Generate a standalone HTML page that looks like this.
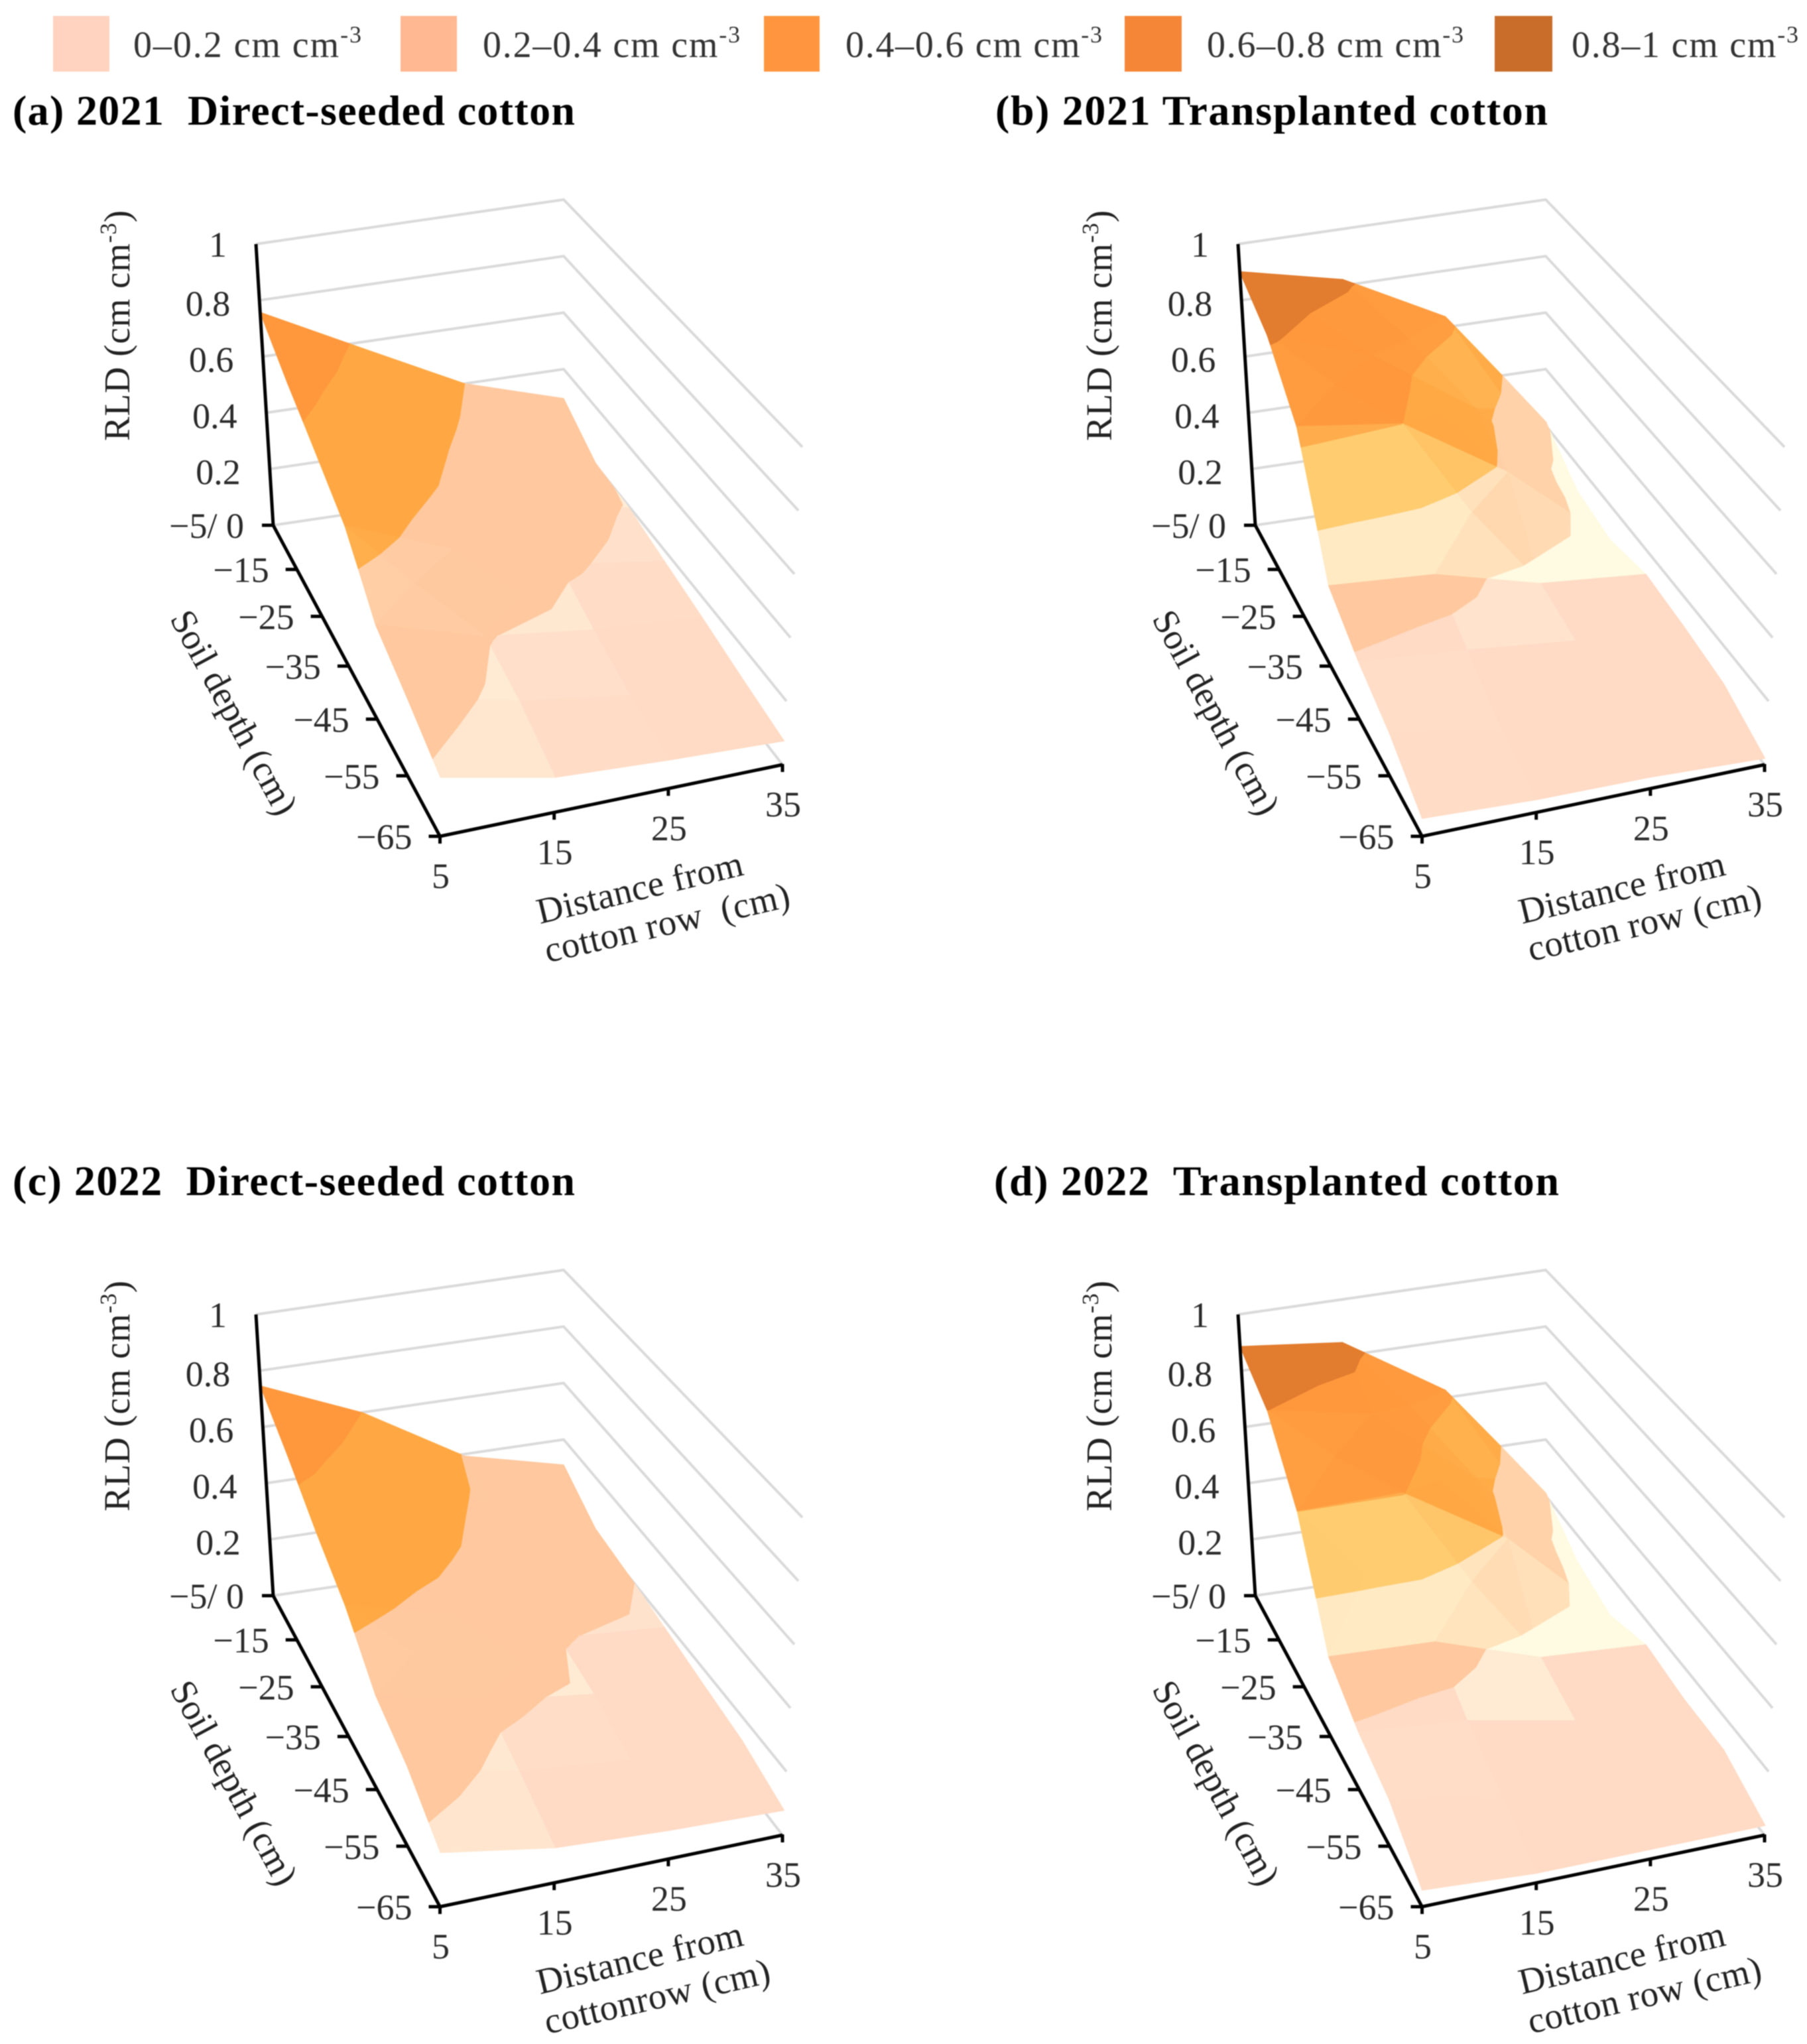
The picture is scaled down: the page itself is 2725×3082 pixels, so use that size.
<!DOCTYPE html>
<html lang="en">
<head>
<meta charset="utf-8">
<title>Root length density surfaces</title>
<style>
html,body{margin:0;padding:0;background:#fff;}
svg{display:block;font-family:"Liberation Serif",serif;filter:blur(0.7px);}
.title{font-size:64px;font-weight:bold;fill:#000;}
.legend-text{font-size:56px;fill:#333;}
.axis-title{font-size:55px;fill:#222;}
.tick{font-size:54px;fill:#2a2a2a;}
</style>
</head>
<body>
<svg id="chart" width="2725" height="3082" viewBox="0 0 2725 3082" xmlns="http://www.w3.org/2000/svg">
<rect x="0" y="0" width="2725" height="3082" fill="#fff"/>
<g>
  <rect x="80" y="24" width="85" height="84" fill="#FFD3BF"/>
  <text class="legend-text" x="201" y="86" textLength="344" lengthAdjust="spacing">0–0.2 cm cm<tspan dy="-22" font-size="36">-3</tspan></text>
  <rect x="604" y="24" width="85" height="84" fill="#FFB891"/>
  <text class="legend-text" x="728" y="86" textLength="388" lengthAdjust="spacing">0.2–0.4 cm cm<tspan dy="-22" font-size="36">-3</tspan></text>
  <rect x="1152" y="24" width="84" height="84" fill="#FF963F"/>
  <text class="legend-text" x="1275" y="86" textLength="387" lengthAdjust="spacing">0.4–0.6 cm cm<tspan dy="-22" font-size="36">-3</tspan></text>
  <rect x="1696" y="24" width="86" height="84" fill="#F58638"/>
  <text class="legend-text" x="1820" y="86" textLength="387" lengthAdjust="spacing">0.6–0.8 cm cm<tspan dy="-22" font-size="36">-3</tspan></text>
  <rect x="2254" y="24" width="87" height="84" fill="#C96D2B"/>
  <text class="legend-text" x="2370" y="86" textLength="342" lengthAdjust="spacing">0.8–1 cm cm<tspan dy="-22" font-size="36">-3</tspan></text>
</g>

<text class="title" x="19" y="188" textLength="848" lengthAdjust="spacing" xml:space="preserve">(a) 2021  Direct-seeded cotton</text>
<text class="title" x="1501" y="188" textLength="833" lengthAdjust="spacing" xml:space="preserve">(b) 2021 Transplanted cotton</text>
<text class="title" x="19" y="1802" textLength="848" lengthAdjust="spacing" xml:space="preserve">(c) 2022  Direct-seeded cotton</text>
<text class="title" x="1499" y="1802" textLength="852" lengthAdjust="spacing" xml:space="preserve">(d) 2022  Transplanted cotton</text>

<g id="panel-a" transform="translate(0,0)">
  <text class="axis-title" transform="translate(195,491) rotate(-90)" text-anchor="middle" textLength="348" lengthAdjust="spacing">RLD (cm cm<tspan dy="-20" font-size="35">-3</tspan><tspan dy="20">)</tspan></text>
  <text class="axis-title" transform="translate(337,1083) rotate(61.5)" text-anchor="middle" textLength="342" lengthAdjust="spacing">Soil depth (cm)</text>
  <text class="axis-title" transform="translate(969,1356) rotate(-13.5)" text-anchor="middle" textLength="318" lengthAdjust="spacing">Distance from</text>
  <text class="axis-title" transform="translate(1010,1409) rotate(-13)" text-anchor="middle" textLength="378" lengthAdjust="spacing" xml:space="preserve">cotton row  (cm)</text>
</g>
<g id="panel-b" transform="translate(1481,0)">
  <text class="axis-title" transform="translate(195,491) rotate(-90)" text-anchor="middle" textLength="348" lengthAdjust="spacing">RLD (cm cm<tspan dy="-20" font-size="35">-3</tspan><tspan dy="20">)</tspan></text>
  <text class="axis-title" transform="translate(337,1083) rotate(61.5)" text-anchor="middle" textLength="342" lengthAdjust="spacing">Soil depth (cm)</text>
  <text class="axis-title" transform="translate(969,1356) rotate(-13.5)" text-anchor="middle" textLength="318" lengthAdjust="spacing">Distance from</text>
  <text class="axis-title" transform="translate(1003,1409) rotate(-13)" text-anchor="middle" textLength="360" lengthAdjust="spacing">cotton row (cm)</text>
</g>
<g id="panel-c" transform="translate(0,1614)">
  <text class="axis-title" transform="translate(195,491) rotate(-90)" text-anchor="middle" textLength="348" lengthAdjust="spacing">RLD (cm cm<tspan dy="-20" font-size="35">-3</tspan><tspan dy="20">)</tspan></text>
  <text class="axis-title" transform="translate(337,1083) rotate(61.5)" text-anchor="middle" textLength="342" lengthAdjust="spacing">Soil depth (cm)</text>
  <text class="axis-title" transform="translate(969,1356) rotate(-13.5)" text-anchor="middle" textLength="318" lengthAdjust="spacing">Distance from</text>
  <text class="axis-title" transform="translate(995,1414) rotate(-13)" text-anchor="middle" textLength="348" lengthAdjust="spacing">cottonrow (cm)</text>
</g>
<g id="panel-d" transform="translate(1481,1614)">
  <text class="axis-title" transform="translate(195,491) rotate(-90)" text-anchor="middle" textLength="348" lengthAdjust="spacing">RLD (cm cm<tspan dy="-20" font-size="35">-3</tspan><tspan dy="20">)</tspan></text>
  <text class="axis-title" transform="translate(337,1083) rotate(61.5)" text-anchor="middle" textLength="342" lengthAdjust="spacing">Soil depth (cm)</text>
  <text class="axis-title" transform="translate(969,1356) rotate(-13.5)" text-anchor="middle" textLength="318" lengthAdjust="spacing">Distance from</text>
  <text class="axis-title" transform="translate(1003,1412) rotate(-13)" text-anchor="middle" textLength="360" lengthAdjust="spacing">cotton row (cm)</text>
</g>
</svg>

<script>
// ---- data ----
const distanceCm = [5, 15, 25, 35];
const depthCm = [-5, -15, -25, -35, -45, -55, -65];
const rldTicks = [0, 0.2, 0.4, 0.6, 0.8, 1];
const rldTickLabels = ['−5/ 0', '0.2', '0.4', '0.6', '0.8', '1'];
const depthTickLabels = ['', '−15', '−25', '−35', '−45', '−55', '−65'];
const distanceTickLabels = ['5', '15', '25', '35'];
const bandEdges = [0, 0.2, 0.4, 0.6, 0.8, 1];

// RLD (cm cm-3): one row per depth, one column per distance
const rldDirect2021 = [
  [0.757, 0.576, 0.400, 0.296],
  [0.650, 0.500, 0.340, 0.207],
  [0.560, 0.430, 0.260, 0.195],
  [0.470, 0.330, 0.215, 0.165],
  [0.310, 0.205, 0.160, 0.136],
  [0.250, 0.170, 0.115, 0.104],
  [0.185, 0.110, 0.090, 0.075]
];
const rldTransplanted2021 = [
  [0.902, 0.822, 0.638, 0.214],
  [0.818, 0.690, 0.450, 0.110],
  [0.650, 0.600, 0.375, 0.085],
  [0.270, 0.245, 0.152, 0.120],
  [0.190, 0.160, 0.124, 0.106],
  [0.137, 0.080, 0.098, 0.085],
  [0.056, 0.040, 0.036, 0.020]
];
const rldDirect2022 = [
  [0.746, 0.598, 0.393, 0.310],
  [0.643, 0.520, 0.360, 0.223],
  [0.532, 0.460, 0.300, 0.204],
  [0.440, 0.350, 0.205, 0.178],
  [0.310, 0.225, 0.180, 0.152],
  [0.257, 0.170, 0.135, 0.128],
  [0.170, 0.110, 0.090, 0.078]
];
const rldTransplanted2022 = [
  [0.886, 0.848, 0.627, 0.211],
  [0.800, 0.733, 0.454, 0.110],
  [0.600, 0.605, 0.388, 0.068],
  [0.268, 0.255, 0.140, 0.120],
  [0.190, 0.160, 0.093, 0.100],
  [0.148, 0.097, 0.100, 0.098],
  [0.052, 0.030, 0.030, 0.030]
];

// ---- axis functions (shared perspective box) ----
const floorBL = [412, 792], floorBR = [850, 727], floorFL = [663.5, 1261], floorFR = [1180, 1153];
const topBL = [386, 368], topBR = [850, 301], topFL = [667.5, 781], topFR = [1210, 674];
const lerp = (a, b, t) => a + (b - a) * t;
const lerp2 = (p, q, t) => [lerp(p[0], q[0], t), lerp(p[1], q[1], t)];
function distanceAxis(d) { return (d - distanceCm[0]) / (distanceCm[distanceCm.length - 1] - distanceCm[0]); }
function depthAxis(z) {
  const v = (depthCm[0] - z) / (depthCm[0] - depthCm[depthCm.length - 1]);
  return 0.828 * v / (1 - 0.172 * v);
}
function rldAxis(r) { return r; }
function project(d, depth, rld) {
  const u = distanceAxis(d), f = depthAxis(depth), w = rldAxis(rld);
  const bottom = lerp2(lerp2(floorBL, floorBR, u), lerp2(floorFL, floorFR, u), f);
  const top = lerp2(lerp2(topBL, topBR, u), lerp2(topFL, topFR, u), f);
  return lerp2(bottom, top, w);
}

// ---- palette ----
const bandFlat = [[255, 218, 196], [255, 200, 158], [255, 168, 67], [255, 152, 60], [226, 124, 46]];
const bandSteep = [[255, 250, 226], [255, 234, 196], [255, 204, 112], [255, 172, 76], [232, 132, 50]];
function mixColor(a, b, t) {
  return 'rgb(' + [0, 1, 2].map(i => Math.round(lerp(a[i], b[i], t))).join(',') + ')';
}

const NS = 'http://www.w3.org/2000/svg';
function el(parent, tag, attrs) {
  const e = document.createElementNS(NS, tag);
  for (const k in attrs) e.setAttribute(k, attrs[k]);
  parent.appendChild(e);
  return e;
}

// ---- contour clipping ----
function clip(poly, level, keepAbove) {
  const out = [];
  for (let i = 0; i < poly.length; i++) {
    const a = poly[i], b = poly[(i + 1) % poly.length];
    const ia = keepAbove ? a.rld >= level : a.rld <= level;
    const ib = keepAbove ? b.rld >= level : b.rld <= level;
    if (ia) out.push(a);
    if (ia !== ib) {
      const t = (level - a.rld) / (b.rld - a.rld);
      out.push({ d: lerp(a.d, b.d, t), depth: lerp(a.depth, b.depth, t), rld: level });
    }
  }
  return out;
}
function slopes(tri) {
  const gx = p => (p.d - distanceCm[0]) / 10, gy = p => (depthCm[0] - p.depth) / 10;
  const e1 = [gx(tri[1]) - gx(tri[0]), gy(tri[1]) - gy(tri[0]), tri[1].rld - tri[0].rld];
  const e2 = [gx(tri[2]) - gx(tri[0]), gy(tri[2]) - gy(tri[0]), tri[2].rld - tri[0].rld];
  const nx = e1[1] * e2[2] - e1[2] * e2[1];
  const ny = e1[2] * e2[0] - e1[0] * e2[2];
  const nz = e1[0] * e2[1] - e1[1] * e2[0];
  return { gc: Math.abs(nx / nz), gr: Math.abs(ny / nz) };
}
function lighting(s, cell, band) {
  let t;
  if (band === 0) t = Math.max((cell.gr - 0.12) / 0.22, (cell.gc - 0.03) * 8);
  else if (band === 1) {
    const side = cell.gc > 0.25 ? 0.3 : Math.min(0.7, (cell.gcMax - 0.2) * 6);
    t = Math.max(Math.min((s.gr - 0.12) / 0.22, cell.gc > 0.25 ? 0.3 : 1), side);
  } else t = Math.max((s.gr - 0.12) / 0.22, (s.gc - 0.2) * 0.5);
  return Math.max(0, Math.min(1, t));
}

function drawSurface(group, values) {
  const surface = el(group, 'g', {});
  
  
  const vertex = (r, c) => ({ d: distanceCm[c], depth: depthCm[r], rld: values[r][c] });
  for (let r = 0; r < depthCm.length - 1; r++) {
    for (let c = distanceCm.length - 2; c >= 0; c--) {
      const A = vertex(r, c), B = vertex(r, c + 1), C = vertex(r + 1, c + 1), D = vertex(r + 1, c);
      const M = {
        d: (A.d + B.d) / 2,
        depth: (A.depth + D.depth) / 2,
        rld: (A.rld + B.rld + C.rld + D.rld) / 4
      };
      const top = Math.abs(A.rld - B.rld), bottom = Math.abs(D.rld - C.rld);
      const cell = {
        gc: (top + bottom) / 2,
        gcMax: Math.max(top, bottom),
        gr: (Math.abs(A.rld - D.rld) + Math.abs(B.rld - C.rld)) / 2
      };
      [[A, B, M], [B, C, M], [D, A, M], [C, D, M]].forEach(tri => {
        const s = slopes(tri);
        for (let b = 0; b < bandEdges.length - 1; b++) {
          let poly = clip(tri, bandEdges[b], true);
          if (poly.length) poly = clip(poly, bandEdges[b + 1], false);
          if (poly.length < 3) continue;
          const fill = mixColor(bandFlat[b], bandSteep[b], lighting(s, cell, b));
          const pts = poly.map(p => project(p.d, p.depth, p.rld).map(n => n.toFixed(1)).join(',')).join(' ');
          const facet = el(surface, 'polygon', { points: pts, fill: fill, stroke: fill, 'stroke-width': 1.2, 'stroke-linejoin': 'round' });
          
          
        }
      });
    }
  }
}

function drawGrid(group) {
  const grid = el(group, 'g', { fill: 'none', stroke: '#DADADA', 'stroke-width': 4 });
  
  
  const dMin = distanceCm[0], dMax = distanceCm[distanceCm.length - 1];
  const zBack = depthCm[0], zFront = depthCm[depthCm.length - 1];
  rldTicks.forEach(tick => {
    const a = project(dMin, zBack, tick), b = project(dMax, zBack, tick), c = project(dMax, zFront, tick);
    const line = el(grid, 'polyline', { points: [a, b, c].map(p => p.join(',')).join(' ') });
    
    
  });
}

function drawAxes(group) {
  const axes = el(group, 'g', { fill: 'none', stroke: '#000', 'stroke-width': 5 });
  
  
  const dMin = distanceCm[0], dMax = distanceCm[distanceCm.length - 1];
  const zBack = depthCm[0], zFront = depthCm[depthCm.length - 1];
  const zTop = rldTicks[rldTicks.length - 1];
  const path = [project(dMin, zBack, zTop), project(dMin, zBack, 0), project(dMin, zFront, 0), project(dMax, zFront, 0)];
  const frame = el(axes, 'polyline', { points: path.map(p => p.join(',')).join(' ') });
  
  

  rldTicks.forEach((tick, i) => {
    const p = project(dMin, zBack, tick);
    const edgeTick = tick === 0 || tick === 1;
    const label = el(group, 'text', { class: 'tick', x: p[0] - 44, y: p[1] + (edgeTick ? 19 : 23), 'text-anchor': 'end' });
    label.textContent = rldTickLabels[i];
    
    
  });
  depthCm.forEach((depth, i) => {
    const p = project(dMin, depth, 0);
    const tick = el(axes, 'line', { x1: p[0] - 17, y1: p[1], x2: p[0], y2: p[1] });
    
    
    if (!depthTickLabels[i]) return;
    const label = el(group, 'text', { class: 'tick', x: p[0] - 42, y: p[1] + 19, 'text-anchor': 'end' });
    label.textContent = depthTickLabels[i];
    
    
  });
  distanceCm.forEach((d, i) => {
    const p = project(d, zFront, 0);
    const tick = el(axes, 'line', { x1: p[0], y1: p[1] - 1, x2: p[0], y2: p[1] + 11 });
    
    
    const label = el(group, 'text', { class: 'tick', x: p[0] + 1, y: p[1] + 78, 'text-anchor': 'middle' });
    label.textContent = distanceTickLabels[i];
    
    
  });
}

function drawPanel(id, values) {
  const g = document.getElementById(id);
  const holder = document.createElementNS(NS, 'g');
  g.insertBefore(holder, g.firstChild);
  drawGrid(holder);
  drawSurface(holder, values);
  drawAxes(holder);
}
drawPanel('panel-a', rldDirect2021);
drawPanel('panel-b', rldTransplanted2021);
drawPanel('panel-c', rldDirect2022);
drawPanel('panel-d', rldTransplanted2022);
</script>
</body>
</html>
